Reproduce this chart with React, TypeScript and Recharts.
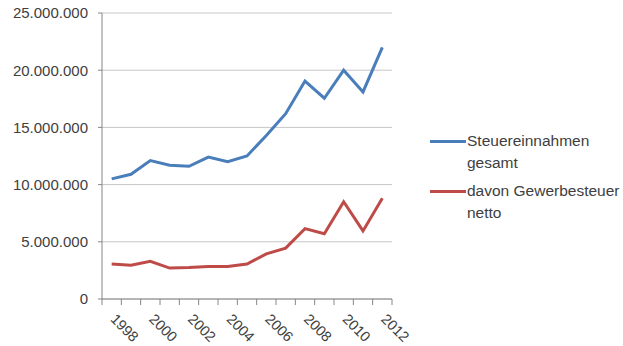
import { LineChart, Line, XAxis, YAxis, CartesianGrid, Legend } from 'recharts';

// Steuereinnahmen der Gemeinde, Jahreswerte in Euro
const years = ['1998', '1999', '2000', '2001', '2002', '2003', '2004', '2005', '2006', '2007', '2008', '2009', '2010', '2011', '2012'];
const steuereinnahmenGesamt = [
  10500000, 10900000, 12100000, 11700000, 11600000, 12400000, 12000000, 12500000,
  14300000, 16200000, 19050000, 17550000, 20000000, 18100000, 22000000,
];
const gewerbesteuerNetto = [
  3050000, 2950000, 3300000, 2700000, 2750000, 2850000, 2850000, 3050000,
  3950000, 4450000, 6150000, 5700000, 8500000, 5950000, 8800000,
];
const yTicks = [0, 5000000, 10000000, 15000000, 20000000, 25000000];

const seriesNames = {
  gesamt: 'Steuereinnahmen gesamt',
  gewerbe: 'davon Gewerbesteuer netto',
};

const chartData = years.map((year, i) => ({
  year,
  gesamt: steuereinnahmenGesamt[i],
  gewerbe: gewerbesteuerNetto[i],
}));

const FONT = "'Liberation Sans', Arial, sans-serif";
const TEXT = '#404040';
const AXIS = '#868686';

const WIDTH = 623;
const HEIGHT = 346;
const MARGIN = { top: 13, right: 231, bottom: 0, left: 10 };
const Y_AXIS_WIDTH = 92;
const plotWidth = WIDTH - MARGIN.left - MARGIN.right - Y_AXIS_WIDTH;
const band = plotWidth / years.length;

const formatDe = (v: number) => String(v).replace(/\B(?=(\d{3})+(?!\d))/g, '.');

// category ticks sit between the years, labels on every second year
const YearTick = (props: any) => {
  const { x, y, payload, index } = props;
  const i = payload?.index ?? index;
  const left = x - band / 2;
  const lx = x - 2;
  const ly = y + 21;
  return (
    <g>
      <line x1={left} x2={left} y1={y} y2={y + 6} stroke={AXIS} />
      {i === years.length - 1 && (
        <line x1={x + band / 2} x2={x + band / 2} y1={y} y2={y + 6} stroke={AXIS} />
      )}
      {i % 2 === 0 && (
        <text
          x={lx}
          y={ly}
          transform={`rotate(45, ${lx}, ${ly})`}
          textAnchor="start"
          fill={TEXT}
          fontSize={14.5}
          fontFamily={FONT}
        >
          {payload.value}
        </text>
      )}
    </g>
  );
};

const renderLegend = (props: any) => {
  const { payload } = props;
  return (
    <div style={{ fontFamily: FONT, fontSize: 15.5, lineHeight: '21.5px', color: TEXT, textAlign: 'left' }}>
      {payload.map((entry: any) => (
        <div key={entry.value} style={{ display: 'flex', alignItems: 'flex-start', marginBottom: 7 }}>
          <div
            style={{
              width: 36,
              height: 3,
              marginTop: 10,
              marginRight: 1,
              background: entry.color,
              flex: 'none',
            }}
          />
          <div style={{ width: 156 }}>{entry.value}</div>
        </div>
      ))}
    </div>
  );
};

export default function App() {
  return (
    <div style={{ position: 'absolute', left: 0, top: 0, width: WIDTH, height: HEIGHT, background: '#fff' }}>
      <LineChart width={WIDTH} height={HEIGHT} data={chartData} margin={MARGIN}>
        <CartesianGrid vertical={false} stroke="#C6C6C6" />
        <XAxis
          dataKey="year"
          interval={0}
          height={47}
          padding={{ left: band / 2, right: band / 2 }}
          axisLine={{ stroke: AXIS }}
          tickLine={false}
          tickSize={0}
          tickMargin={0}
          tick={<YearTick />}
        />
        <YAxis
          width={Y_AXIS_WIDTH}
          domain={[0, 25000000]}
          ticks={yTicks}
          interval={0}
          tickFormatter={formatDe}
          axisLine={{ stroke: AXIS }}
          tickLine={{ stroke: AXIS }}
          tickSize={4}
          tickMargin={10}
          tick={{ fill: TEXT, fontSize: 15, fontFamily: FONT }}
        />
        <Legend
          layout="horizontal"
          verticalAlign="middle"
          align="center"
          content={renderLegend}
          wrapperStyle={{ left: 430, top: 130, width: 193 }}
        />
        <Line
          type="linear"
          dataKey="gesamt"
          name={seriesNames.gesamt}
          stroke="#4A7EBB"
          strokeWidth={3}
          dot={false}
          isAnimationActive={false}
        />
        <Line
          type="linear"
          dataKey="gewerbe"
          name={seriesNames.gewerbe}
          stroke="#BE4B48"
          strokeWidth={3}
          dot={false}
          isAnimationActive={false}
        />
      </LineChart>
    </div>
  );
}
